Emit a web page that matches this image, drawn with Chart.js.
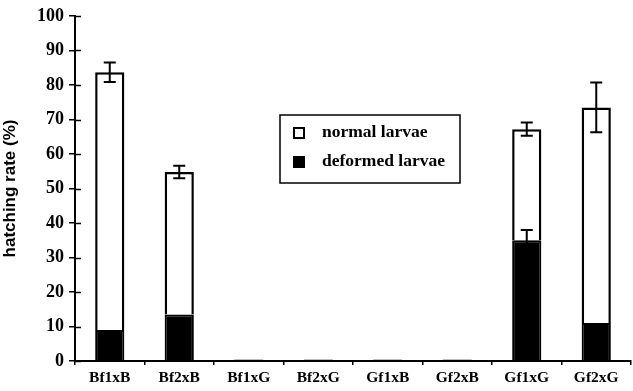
<!DOCTYPE html>
<html>
<head>
<meta charset="utf-8">
<script src="https://cdn.jsdelivr.net/npm/chart.js@4"></script>
<style>
    html, body { margin: 0; padding: 0; background: #fff; }
    #wrap { width: 633px; height: 391px; }
</style>
</head>
<body>
<div id="wrap"><canvas id="chart"></canvas></div>
<script>
const categories = ["Bf1xB", "Bf2xB", "Bf1xG", "Bf2xG", "Gf1xB", "Gf2xB", "Gf1xG", "Gf2xG"];

const deformed = [9, 13.5, 0.4, 0.4, 0.4, 0.4, 35, 11];
const normal = [74.7, 41.3, 0, 0, 0, 0, 32.2, 62.5];

// error bars (+/-) on the stack total and on the deformed part
const totalError = [2.8, 1.8, 0, 0, 0, 0, 1.9, 7.2];
const deformedError = [0, 0, 0, 0, 0, 0, 3, 0];

const yTicks = [0, 10, 20, 30, 40, 50, 60, 70, 80, 90, 100];

const serif = '"Liberation Serif", "DejaVu Serif", serif';

const errorBars = {
    id: 'errorBars',
    afterDatasetsDraw(chart) {
        const ctx = chart.ctx;
        const y = chart.scales.y;
        const meta = chart.getDatasetMeta(1);
        ctx.save();
        ctx.strokeStyle = '#000';
        ctx.lineWidth = 2;
        for (let i = 0; i < categories.length; i++) {
            const cx = meta.data[i].x;
            const bars = [
                [deformed[i] + normal[i], totalError[i]],
                [deformed[i], deformedError[i]],
            ];
            for (const [v, e] of bars) {
                if (!e) continue;
                const top = y.getPixelForValue(v + e);
                const bot = y.getPixelForValue(v - e);
                ctx.beginPath();
                ctx.moveTo(cx, top); ctx.lineTo(cx, bot);
                ctx.moveTo(cx - 6, top); ctx.lineTo(cx + 6, top);
                ctx.moveTo(cx - 6, bot); ctx.lineTo(cx + 6, bot);
                ctx.stroke();
            }
        }
        // inner half of the y ticks
        const left = chart.chartArea.left;
        ctx.lineWidth = 1.5;
        for (const t of yTicks) {
            const py = Math.round(y.getPixelForValue(t)) + 0.5;
            ctx.beginPath();
            ctx.moveTo(left, py); ctx.lineTo(left + 6, py);
            ctx.stroke();
        }
        ctx.restore();
    }
};

const boxLegend = {
    id: 'boxLegend',
    afterDraw(chart) {
        const ctx = chart.ctx;
        ctx.save();
        ctx.strokeStyle = '#000';
        ctx.lineWidth = 1.5;
        ctx.strokeRect(280, 115, 180, 68);
        ctx.font = 'bold 17.5px ' + serif;
        ctx.textBaseline = 'middle';
        ctx.fillStyle = '#000';
        const items = [chart.data.datasets[1], chart.data.datasets[0]];
        items.forEach((ds, k) => {
            const cy = 133 + k * 29;
            ctx.fillStyle = ds.backgroundColor;
            ctx.fillRect(294, cy - 5, 10, 10);
            ctx.lineWidth = 2;
            ctx.strokeRect(294, cy - 5, 10, 10);
            ctx.fillStyle = '#000';
            ctx.fillText(ds.label, 322, cy - 1);
        });
        ctx.restore();
    }
};

new Chart(document.getElementById('chart'), {
    type: 'bar',
    data: {
        labels: categories,
        datasets: [
            {
                label: 'deformed larvae',
                data: deformed,
                backgroundColor: '#000',
                borderColor: '#000',
                borderWidth: 2,
            },
            {
                label: 'normal larvae',
                data: normal,
                backgroundColor: '#fff',
                borderColor: '#000',
                borderWidth: 2.5,
            },
        ],
    },
    options: {
        animation: false,
        responsive: true,
        maintainAspectRatio: false,
        layout: { padding: { top: 16, right: 2, left: 0, bottom: 0 } },
        datasets: {
            bar: { categoryPercentage: 1, barPercentage: 0.42 },
        },
        scales: {
            x: {
                stacked: true,
                afterFit: (s) => { s.height = 30; },
                border: { color: '#000', width: 2 },
                grid: { display: true, drawOnChartArea: false, offset: true, tickLength: 4, color: '#000', lineWidth: 1.5 },
                ticks: {
                    color: '#000',
                    padding: 4,
                    font: { family: serif, size: 15.5, weight: 'bold' },
                    maxRotation: 0,
                },
            },
            y: {
                stacked: true,
                min: 0,
                max: 100,
                afterFit: (s) => { s.width = 75; },
                afterBuildTicks: (s) => { s.ticks = yTicks.map(v => ({ value: v })); },
                border: { color: '#000', width: 2 },
                grid: { drawOnChartArea: false, tickLength: 6, color: '#000', lineWidth: 1.5 },
                ticks: {
                    color: '#000',
                    padding: 5,
                    font: { family: serif, size: 18, weight: 'bold' },
                },
                title: {
                    display: true,
                    text: 'hatching rate (%)',
                    color: '#000',
                    padding: { top: 0, bottom: 4 },
                    font: { family: '"Liberation Sans", Arial, sans-serif', size: 17, weight: 'bold' },
                },
            },
        },
        plugins: {
            legend: { display: false },
            tooltip: { enabled: false },
        },
    },
    plugins: [errorBars, boxLegend],
});
</script>
</body>
</html>
